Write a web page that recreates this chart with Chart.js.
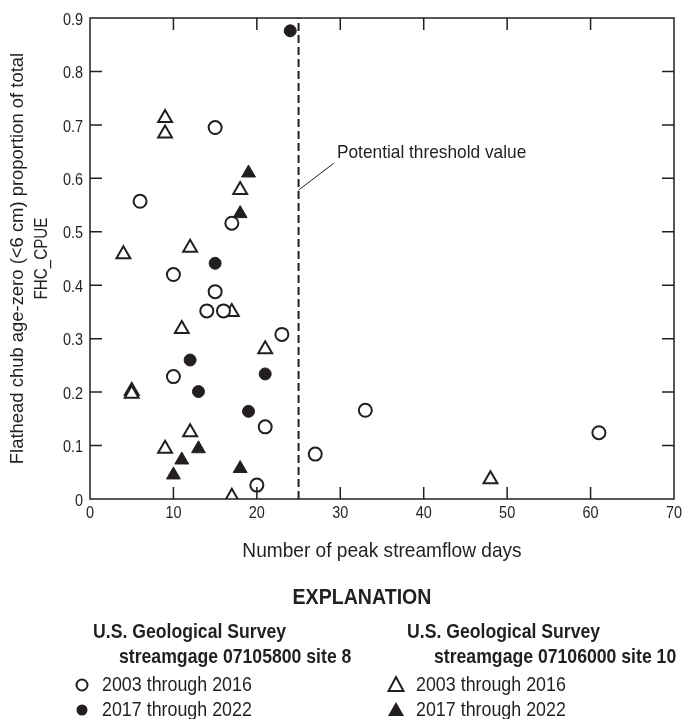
<!DOCTYPE html>
<html>
<head>
<meta charset="utf-8">
<script src="https://cdn.jsdelivr.net/npm/chart.js@4"></script>
<style>
  body { margin: 0; background: #fff; }
  canvas { display: block; }
</style>
</head>
<body>
<canvas id="fhc-chart" width="684" height="719"></canvas>
<script>
"use strict"

const fontFamily = "'Liberation Sans', Arial, sans-serif";
const ink = "#231f20";

// axis ticks
const xTicks = [0, 10, 20, 30, 40, 50, 60, 70];
const yTicks = [0, 0.1, 0.2, 0.3, 0.4, 0.5, 0.6, 0.7, 0.8, 0.9];

// streamgage 07105800 site 8, 2003 through 2016 (open circles)
const site8EarlyX = [15, 6, 17, 10, 15, 14, 16, 23, 10, 21, 20, 27, 33, 61];
const site8EarlyY = [0.695, 0.557, 0.516, 0.420, 0.388, 0.352, 0.352, 0.308, 0.229, 0.135, 0.026, 0.084, 0.166, 0.124];

// site 8, 2017 through 2022 (filled circles)
const site8LateX = [24, 15, 12, 21, 13, 19];
const site8LateY = [0.876, 0.441, 0.260, 0.234, 0.201, 0.164];

// streamgage 07106000 site 10, 2003 through 2016 (open triangles)
const site10EarlyX = [9, 9, 18, 12, 4, 17, 11, 21, 5, 5, 12, 9, 17, 48];
const site10EarlyY = [0.713, 0.684, 0.578, 0.470, 0.458, 0.350, 0.318, 0.280, 0.202, 0.197, 0.125, 0.094, 0.004, 0.037];

// site 10, 2017 through 2022 (filled triangles)
const site10LateX = [19, 18, 13, 11, 18, 10];
const site10LateY = [0.610, 0.534, 0.094, 0.073, 0.057, 0.045];

// threshold line and its note
const thresholdX = 25;
const thresholdLabel = "Potential threshold value";
const leaderFrom = [25, 0.578];
const leaderTo = [29.2, 0.628];
const labelAt = [29.6, 0.647];

function toPoints(xs, ys) {
  const pts = [];
  for (let i = 0; i < xs.length; i++) {
    pts.push({ x: xs[i], y: ys[i] });
  }
  return pts;
}

// no condensed face installed, so squeeze Liberation Sans sideways
function narrowText(ctx, text, x, y, size, opts) {
  opts = opts || {};
  ctx.save();
  ctx.translate(x, y);
  if (opts.rotate) ctx.rotate(opts.rotate);
  ctx.scale(opts.sx || 0.87, 1);
  ctx.font = (opts.weight || "normal") + " " + size + "px " + fontFamily;
  ctx.textAlign = opts.align || "left";
  ctx.textBaseline = "middle";
  ctx.fillStyle = ink;
  ctx.fillText(text, 0, 0);
  ctx.restore();
}

// frame, inward ticks, tick labels, note and explanation block
const framePlugin = {
  id: "frame",
  afterDraw(chart) {
    const ctx = chart.ctx;
    const area = chart.chartArea;
    const xs = chart.scales.x;
    const ys = chart.scales.y;
    const tick = 12;

    ctx.save();
    ctx.strokeStyle = ink;
    ctx.lineWidth = 1.5;
    ctx.strokeRect(area.left, area.top, area.right - area.left, area.bottom - area.top);

    ctx.beginPath();
    xTicks.forEach(v => {
      const px = xs.getPixelForValue(v);
      narrowText(ctx, String(v), px, area.bottom + 14, 17, { align: "center", sx: 0.85 });
      if (v === 0 || v === 70) return;
      ctx.moveTo(px, area.bottom);
      ctx.lineTo(px, area.bottom - tick);
      ctx.moveTo(px, area.top);
      ctx.lineTo(px, area.top + tick);
    });
    yTicks.forEach(v => {
      const py = ys.getPixelForValue(v);
      narrowText(ctx, v === 0 ? "0" : v.toFixed(1), area.left - 7, py + 2, 17, { align: "right", sx: 0.85 });
      if (v === 0 || v === 0.9) return;
      ctx.moveTo(area.left, py);
      ctx.lineTo(area.left + tick, py);
      ctx.moveTo(area.right, py);
      ctx.lineTo(area.right - tick, py);
    });
    ctx.stroke();

    // leader + note
    ctx.lineWidth = 1;
    ctx.beginPath();
    ctx.moveTo(xs.getPixelForValue(leaderFrom[0]), ys.getPixelForValue(leaderFrom[1]));
    ctx.lineTo(xs.getPixelForValue(leaderTo[0]), ys.getPixelForValue(leaderTo[1]));
    ctx.stroke();
    narrowText(ctx, thresholdLabel, xs.getPixelForValue(labelAt[0]), ys.getPixelForValue(labelAt[1]), 19, { sx: 0.91 });

    // axis titles
    narrowText(ctx, "Number of peak streamflow days", (area.left + area.right) / 2, 551, 21, { align: "center", sx: 0.91 });
    const midY = (area.top + area.bottom) / 2;
    narrowText(ctx, "Flathead chub age-zero (<6 cm) proportion of total", 18, midY, 19, { align: "center", rotate: -Math.PI / 2, sx: 0.97 });
    narrowText(ctx, "FHC_CPUE", 42, midY, 19, { align: "center", rotate: -Math.PI / 2, sx: 0.8 });

    // explanation
    narrowText(ctx, "EXPLANATION", 362, 598, 22, { align: "center", weight: "bold", sx: 0.89 });
    narrowText(ctx, "U.S. Geological Survey", 93, 632, 21, { weight: "bold", sx: 0.84 });
    narrowText(ctx, "streamgage 07105800 site 8", 119, 657, 21, { weight: "bold", sx: 0.84 });
    narrowText(ctx, "U.S. Geological Survey", 407, 632, 21, { weight: "bold", sx: 0.84 });
    narrowText(ctx, "streamgage 07106000 site 10", 434, 657, 21, { weight: "bold", sx: 0.84 });

    narrowText(ctx, "2003 through 2016", 102, 685, 21, { sx: 0.85 });
    narrowText(ctx, "2017 through 2022", 102, 710, 21, { sx: 0.85 });
    narrowText(ctx, "2003 through 2016", 416, 685, 21, { sx: 0.85 });
    narrowText(ctx, "2017 through 2022", 416, 710, 21, { sx: 0.85 });

    ctx.lineWidth = 2;
    ctx.strokeStyle = ink;
    ctx.beginPath();
    ctx.arc(82, 685, 5.5, 0, Math.PI * 2);
    ctx.fillStyle = "#fff";
    ctx.fill();
    ctx.stroke();
    ctx.beginPath();
    ctx.arc(82, 710, 5.5, 0, Math.PI * 2);
    ctx.fillStyle = ink;
    ctx.fill();
    ctx.beginPath();
    ctx.moveTo(396, 677); ctx.lineTo(403.5, 691); ctx.lineTo(388.5, 691); ctx.closePath();
    ctx.stroke();
    ctx.beginPath();
    ctx.moveTo(396, 702); ctx.lineTo(404, 716); ctx.lineTo(388, 716); ctx.closePath();
    ctx.fill();
    ctx.restore();
  }
};

const openMark = { backgroundColor: "#fff", borderColor: ink, borderWidth: 2 };
const fullMark = { backgroundColor: ink, borderColor: ink, borderWidth: 1 };

const ctx = document.getElementById("fhc-chart");

new Chart(ctx, {
  type: "scatter",
  data: {
    datasets: [
      Object.assign({ label: "Site 8, 2003-2016", data: toPoints(site8EarlyX, site8EarlyY), pointStyle: "circle", pointRadius: 6.5 }, openMark),
      Object.assign({ label: "Site 8, 2017-2022", data: toPoints(site8LateX, site8LateY), pointStyle: "circle", pointRadius: 6 }, fullMark),
      Object.assign({ label: "Site 10, 2003-2016", data: toPoints(site10EarlyX, site10EarlyY), pointStyle: "triangle", pointRadius: 8 }, openMark),
      Object.assign({ label: "Site 10, 2017-2022", data: toPoints(site10LateX, site10LateY), pointStyle: "triangle", pointRadius: 8 }, fullMark),
      {
        label: "threshold",
        type: "line",
        data: [{ x: thresholdX, y: 0 }, { x: thresholdX, y: 0.9 }],
        borderColor: ink,
        borderWidth: 2,
        borderDash: [8, 4],
        pointRadius: 0,
        fill: false,
      },
    ],
  },
  options: {
    responsive: false,
    animation: false,
    layout: { padding: { top: 18, right: 6, left: 0, bottom: 0 } },
    plugins: { legend: { display: false }, tooltip: { enabled: false } },
    scales: {
      x: {
        type: "linear",
        min: 0,
        max: 70,
        afterFit(s) { s.height = 220; s.paddingLeft = 0; s.paddingRight = 0; },
        afterBuildTicks(s) { s.ticks = xTicks.map(v => ({ value: v })); },
        grid: { display: false, drawTicks: false },
        border: { display: false },
        ticks: { display: false },
      },
      y: {
        type: "linear",
        min: 0,
        max: 0.9,
        afterFit(s) { s.width = 90; s.paddingTop = 0; s.paddingBottom = 0; },
        afterBuildTicks(s) { s.ticks = yTicks.map(v => ({ value: v })); },
        grid: { display: false, drawTicks: false },
        border: { display: false },
        ticks: { display: false },
      },
    },
  },
  plugins: [framePlugin],
});
</script>
</body>
</html>
